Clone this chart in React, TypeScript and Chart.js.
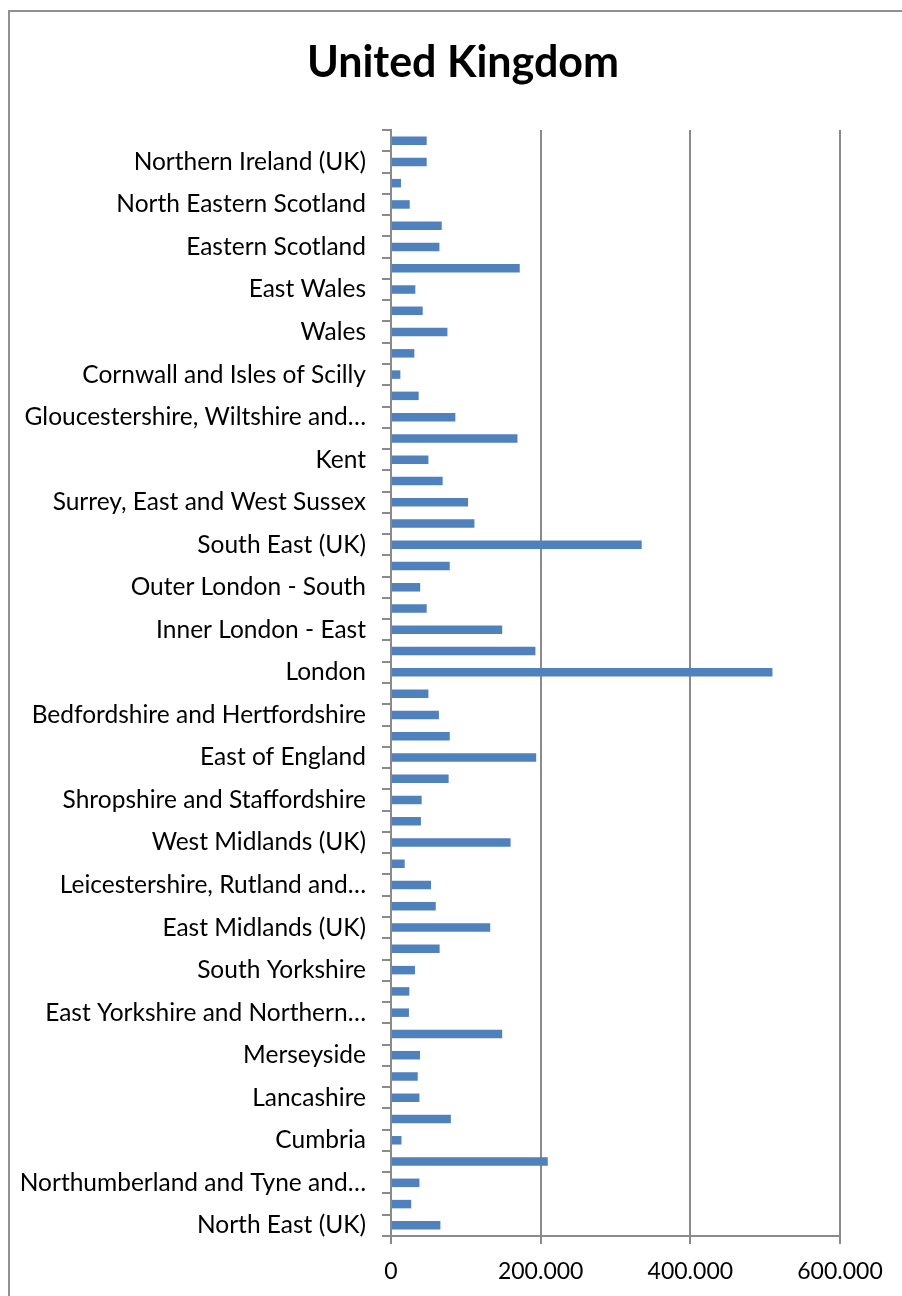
import React, { useEffect, useRef } from "react";
import { Chart, registerables } from "chart.js";

Chart.register(...registerables);

const categories: string[] = [
  "North East (UK)",
  "Tees Valley and Durham",
  "Northumberland and Tyne and Wear",
  "North West (UK)",
  "Cumbria",
  "Greater Manchester",
  "Lancashire",
  "Cheshire",
  "Merseyside",
  "Yorkshire and The Humber",
  "East Yorkshire and Northern Lincolnshire",
  "North Yorkshire",
  "South Yorkshire",
  "West Yorkshire",
  "East Midlands (UK)",
  "Derbyshire and Nottinghamshire",
  "Leicestershire, Rutland and Northamptonshire",
  "Lincolnshire",
  "West Midlands (UK)",
  "Herefordshire, Worcestershire and Warwickshire",
  "Shropshire and Staffordshire",
  "West Midlands",
  "East of England",
  "East Anglia",
  "Bedfordshire and Hertfordshire",
  "Essex",
  "London",
  "Inner London - West",
  "Inner London - East",
  "Outer London - East and North East",
  "Outer London - South",
  "Outer London - West and North West",
  "South East (UK)",
  "Berkshire, Buckinghamshire and Oxfordshire",
  "Surrey, East and West Sussex",
  "Hampshire and Isle of Wight",
  "Kent",
  "South West (UK)",
  "Gloucestershire, Wiltshire and Bristol/Bath area",
  "Dorset and Somerset",
  "Cornwall and Isles of Scilly",
  "Devon",
  "Wales",
  "West Wales and The Valleys",
  "East Wales",
  "Scotland",
  "Eastern Scotland",
  "South Western Scotland",
  "North Eastern Scotland",
  "Highlands and Islands",
  "Northern Ireland (UK)",
  "Northern Ireland",
];

const values: number[] = [
  66000, 27000, 38000, 209500, 14000, 80000, 38000, 35700, 38800, 148600,
  24000, 24500, 32000, 65000, 132600, 59800, 53500, 18300, 159800, 40000,
  41000, 77000, 194000, 78500, 64000, 50000, 509700, 193000, 148600, 47700,
  39000, 78500, 335000, 111500, 103000, 69000, 50000, 169000, 86000, 37000,
  12500, 31200, 75400, 42400, 32500, 172000, 64700, 67800, 25000, 13400,
  47700, 47700,
];

const xTicks: number[] = [0, 200000, 400000, 600000];
const xTickLabels: string[] = ["0", "200.000", "400.000", "600.000"];

const titleText = "United Kingdom";

function truncate(label: string, maxChars: number): string {
  if (label.length <= maxChars) return label;
  const words = label.split(" ");
  let out = "";
  for (const w of words) {
    const next = out ? out + " " + w : w;
    if (next.length > maxChars) break;
    out = next;
  }
  return out + "…";
}

const FONT = "Lato, 'Open Sans', sans-serif";
const GRID = "#8a8a8a";

const titlePlugin = {
  id: "centeredTitle",
  afterDraw(chart: any) {
    const ctx = chart.ctx;
    ctx.save();
    ctx.font = `bold 43px ${FONT}`;
    ctx.fillStyle = "#000";
    ctx.textAlign = "center";
    ctx.textBaseline = "alphabetic";
    ctx.fillText(titleText, 453, 65);
    ctx.restore();
  },
};

export default function App() {
  const ref = useRef<HTMLCanvasElement | null>(null);

  useEffect(() => {
    if (!ref.current) return;
    const chart = new Chart(ref.current, {
      type: "bar",
      data: {
        labels: categories,
        datasets: [
          {
            data: values,
            backgroundColor: "#4F81BD",
            barPercentage: 0.4,
            categoryPercentage: 1,
          },
        ],
      },
      options: {
        indexAxis: "y",
        animation: false,
        responsive: false,
        maintainAspectRatio: false,
        layout: { padding: { left: 8, right: 62, top: 118, bottom: 0 } },
        plugins: {
          legend: { display: false },
          tooltip: { enabled: false },
          title: { display: false },
        },
        scales: {
          y: {
            type: "category",
            reverse: true,
            afterFit: (scale: any) => {
              scale.width = 373;
            },
            grid: {
              offset: true,
              drawOnChartArea: false,
              tickLength: 9,
              color: GRID,
              lineWidth: 2,
            },
            border: { color: GRID, width: 2 },
            ticks: {
              autoSkip: false,
              padding: 16,
              color: "#000",
              font: { family: FONT, size: 24.5 },
              callback: (_v: any, index: number) =>
                index % 2 === 0 ? truncate(categories[index], 30) : "",
            },
          },
          x: {
            type: "linear",
            min: xTicks[0],
            max: xTicks[xTicks.length - 1],
            afterFit: (scale: any) => {
              scale.height = 60;
            },
            afterBuildTicks: (scale: any) => {
              scale.ticks = xTicks.map((v) => ({ value: v }));
            },
            grid: { color: GRID, lineWidth: 2, tickLength: 8 },
            border: { color: GRID, width: 2 },
            ticks: {
              padding: 14,
              color: "#000",
              maxRotation: 0,
              font: { family: FONT, size: 23 },
              callback: (v: any) => {
                const i = xTicks.indexOf(Number(v));
                return i >= 0 ? xTickLabels[i] : "";
              },
            },
          },
        },
      },
      plugins: [titlePlugin],
    });
    return () => chart.destroy();
  }, []);

  return (
    <div
      style={{
        position: "fixed",
        left: 8,
        top: 10,
        width: 894,
        height: 1286,
        borderTop: "2px solid #909090",
        borderLeft: "2px solid #909090",
        background: "#fff",
        overflow: "hidden",
      }}
    >
      <canvas ref={ref} width={892} height={1284} style={{ display: "block" }} />
    </div>
  );
}
